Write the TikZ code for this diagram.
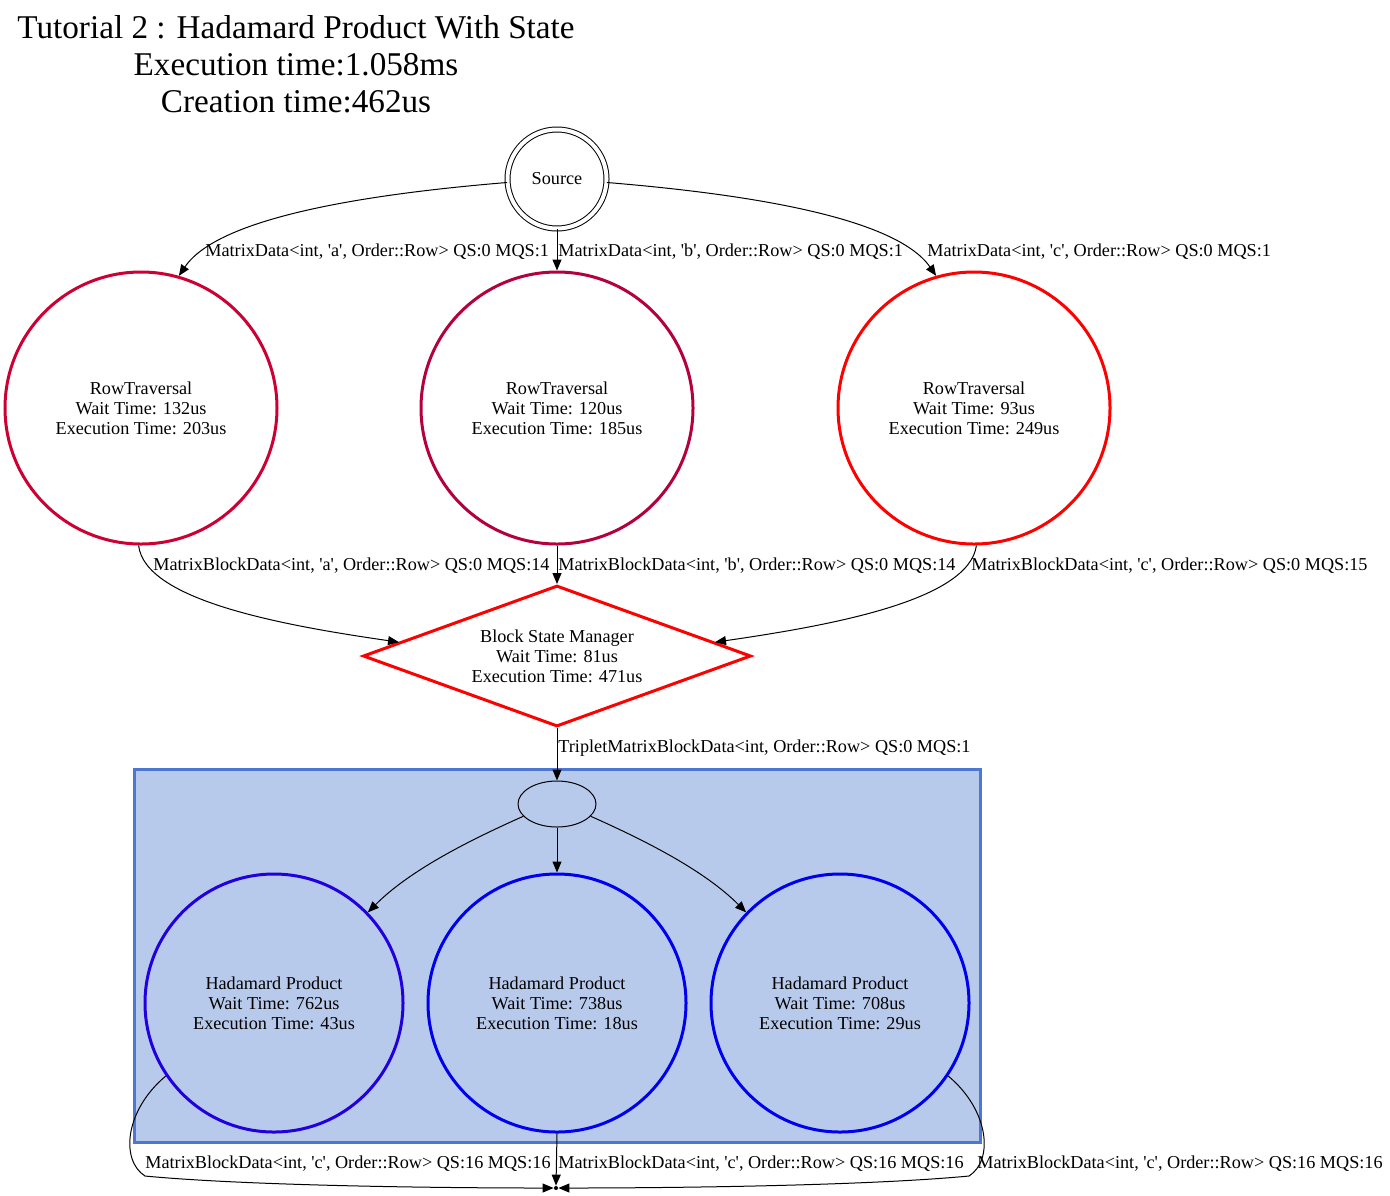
\documentclass[tikz,border=0pt]{standalone}
\usepackage{fontspec}
\setmainfont{Liberation Serif}
\usetikzlibrary{arrows.meta,shapes.geometric}
\definecolor{rtA}{HTML}{CC0033}
\definecolor{rtB}{HTML}{B5003F}
\definecolor{rtC}{HTML}{FF0000}
\definecolor{hpA}{HTML}{2200DD}
\definecolor{hpB}{HTML}{0000EE}
\definecolor{clfill}{HTML}{B8CAEC}
\definecolor{clline}{HTML}{4D77D1}
\newcommand\sq{\textquotesingle}
\begin{document}
\begin{tikzpicture}[x=0.5pt,y=-0.5pt,
  every node/.style={font=\fontsize{9.1pt}{10pt}\selectfont},
  big/.style={circle,draw,line width=1.5pt,align=center,inner sep=0pt,minimum size=136pt},
  hada/.style={circle,draw,line width=1.5pt,align=center,inner sep=0pt,minimum size=129pt},
  lbl/.style={anchor=west,inner sep=0pt},
  conn/.style={draw,line width=0.5pt,-{Triangle[length=5.5pt,width=4.5pt]}},
]
\useasboundingbox (0,0) rectangle (1390,1195);
% cluster
\draw[fill=clfill,draw=clline,line width=1.5pt] (134,769) rectangle (980,1142);

% title
\node[align=center,font=\fontsize{16.6pt}{18.5pt}\selectfont] (title) at (296,64)
  {Tutorial 2 : Hadamard Product With State\\Execution time:1.058ms\\Creation time:462us};

% nodes
\node[circle,draw,line width=0.5pt,double,double distance=2pt,minimum size=49.5pt,inner sep=0pt] (src) at (557,179) {Source};
\node[big,draw=rtA] (rt1) at (141,408) {RowTraversal\\Wait Time: 132us\\Execution Time: 203us};
\node[big,draw=rtB] (rt2) at (557,408) {RowTraversal\\Wait Time: 120us\\Execution Time: 185us};
\node[big,draw=rtC] (rt3) at (974,408) {RowTraversal\\Wait Time: 93us\\Execution Time: 249us};
\node[diamond,draw=rtC,line width=1.5pt,aspect=2.75,inner sep=0pt,minimum width=194pt,minimum height=70.5pt,align=center] (bsm) at (557,656)
  {Block State Manager\\Wait Time: 81us\\Execution Time: 471us};
\node[ellipse,draw,line width=0.5pt,minimum width=39pt,minimum height=23pt,inner sep=0pt] (disp) at (557,804) {};
\node[hada,draw=hpA] (h1) at (274,1003) {Hadamard Product\\Wait Time: 762us\\Execution Time: 43us};
\node[hada,draw=hpB] (h2) at (557,1003) {Hadamard Product\\Wait Time: 738us\\Execution Time: 18us};
\node[hada,draw=hpB] (h3) at (840,1003) {Hadamard Product\\Wait Time: 708us\\Execution Time: 29us};
\node[circle,fill,inner sep=0pt,minimum size=2pt] (sink) at (556,1188) {};

% edges
\draw[conn] (src.184) .. controls (380,193) and (220,215) .. (rt1.74);
\draw[conn] (src.south) -- (rt2.north);
\draw[conn] (src.-4) .. controls (734,193) and (894,215) .. (rt3.106);

\draw[conn] (rt1.-91) .. controls (145,600) and (280,625) .. (bsm.175);
\draw[conn] (rt2.south) -- (bsm.north);
\draw[conn] (rt3.-89) .. controls (969,600) and (834,625) .. (bsm.5);

\draw[conn] (bsm.south) -- (disp.north);

\draw[conn] (disp.200) .. controls (470,840) and (410,870) .. (h1.44);
\draw[conn] (disp.south) -- (h2.north);
\draw[conn] (disp.340) .. controls (644,840) and (704,870) .. (h3.136);

\draw[conn] (h1.214) .. controls (125,1110) and (120,1160) .. (145,1176) .. controls (250,1186) and (450,1188) .. (sink.west);
\draw[conn] (h2.south) -- (sink.north);
\draw[conn] (h3.-34) .. controls (989,1110) and (994,1160) .. (969,1176) .. controls (864,1186) and (664,1188) .. (sink.east);

% labels
\node[lbl] (la) at (205,252) {MatrixData<int, \sq a\sq, Order::Row> QS:0 MQS:1};
\node[lbl] (lb) at (558,252) {MatrixData<int, \sq b\sq, Order::Row> QS:0 MQS:1};
\node[lbl] (lc) at (927,252) {MatrixData<int, \sq c\sq, Order::Row> QS:0 MQS:1};
\node[lbl] (ld) at (153,566) {MatrixBlockData<int, \sq a\sq, Order::Row> QS:0 MQS:14};
\node[lbl] (le) at (558,566) {MatrixBlockData<int, \sq b\sq, Order::Row> QS:0 MQS:14};
\node[lbl] (lf) at (971,566) {MatrixBlockData<int, \sq c\sq, Order::Row> QS:0 MQS:15};
\node[lbl] (lg) at (558,748) {TripletMatrixBlockData<int, Order::Row> QS:0 MQS:1};
\node[lbl] (lh) at (145,1164) {MatrixBlockData<int, \sq c\sq, Order::Row> QS:16 MQS:16};
\node[lbl] (li) at (558,1164) {MatrixBlockData<int, \sq c\sq, Order::Row> QS:16 MQS:16};
\node[lbl] (lj) at (977,1164) {MatrixBlockData<int, \sq c\sq, Order::Row> QS:16 MQS:16};
\end{tikzpicture}
\end{document}
